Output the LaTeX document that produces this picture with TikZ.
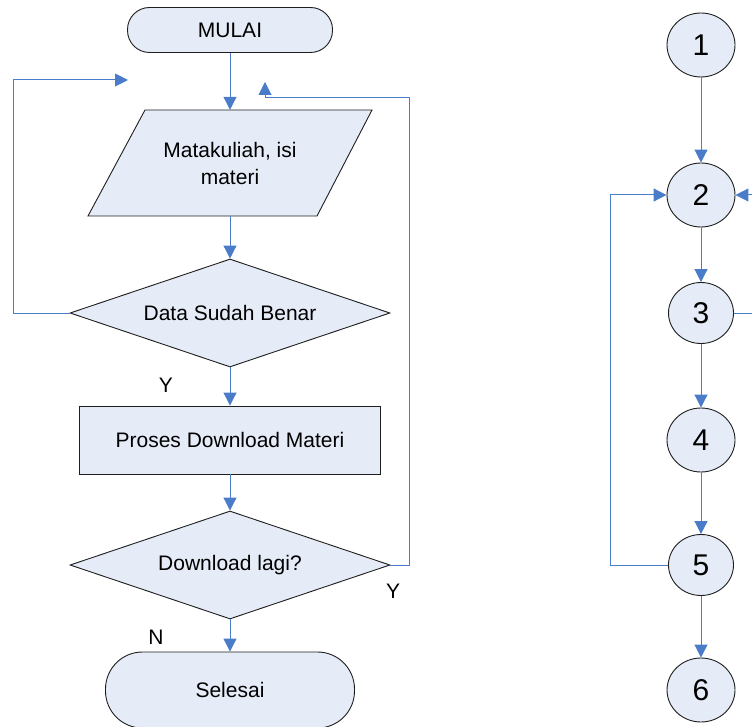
\documentclass[tikz,border=0pt]{standalone}
\usepackage{fontspec}
\setmainfont{Liberation Sans}
\usetikzlibrary{shapes.geometric,arrows.meta}
\definecolor{shapefill}{HTML}{E6ECF7}
\definecolor{conncol}{HTML}{4A7CC9}
\definecolor{edgecol}{HTML}{1E1E1E}
\tikzset{
  box/.style={draw=edgecol,fill=shapefill,line width=0.9pt,inner sep=0pt,font=\fontsize{21}{27}\selectfont,align=center},
  term/.style={box,rectangle,rounded corners=22pt},
  decis/.style={box,diamond,aspect=2.963,minimum width=320pt,minimum height=108pt},
  proc/.style={box,rectangle,minimum width=301pt,minimum height=68pt},
  circ/.style={box,ellipse,font=\fontsize{30}{30}\selectfont},
  conn/.style={draw=conncol,line width=1pt,-{Triangle[width=13pt,length=13pt]}},
  plainconn/.style={draw=conncol,line width=1pt},
  lbl/.style={font=\fontsize{21}{21}\selectfont,inner sep=0pt}
}
\begin{document}
\begin{tikzpicture}[x=1pt,y=-1pt]
\useasboundingbox (0,0) rectangle (752,727);
\clip (0,0) rectangle (752,727);
% left flowchart
\node[term,minimum width=205pt,minimum height=45pt] (start) at (230,30) {MULAI};
\fill[shapefill] (145,110) -- (372,110) -- (317,216) -- (88,216) -- cycle;
\draw[edgecol,line width=0.9pt] (145,110) -- (372,110) -- (317,216) -- (88,216) -- cycle;
\node[font=\fontsize{21}{27}\selectfont,align=center,minimum height=106pt,inner sep=0pt] (inp) at (230,163) {Matakuliah, isi\\materi};
\node[decis] (d1) at (230,313) {Data Sudah Benar};
\node[proc] (proc) at (230,440) {Proses Download Materi};
\node[decis] (d2) at (230,565) {Download lagi?};
\node[term,minimum width=249pt,minimum height=76pt,rounded corners=37pt] (end) at (230,690) {Selesai};
\coordinate (lt) at (128,80);
\coordinate (rt) at (265,82);
\draw[conn] (start.south) -- (inp.north);
\draw[conn] (inp.south) -- (d1.north);
\draw[conn] (d1.south) -- (proc.north);
\draw[conn] (proc.south) -- (d2.north);
\draw[conn] (d2.south) -- (end.north);
\draw[conn] (d1.west) -- (13,313) -- (13,80) -- (lt);
\draw[conn] (d2.east) -- (409,565) -- (409,98) -- (265,98) -- (rt);
\node[lbl] (y1) at (166,385) {Y};
\node[lbl] (y2) at (393,591) {Y};
\node[lbl] (n1) at (156,637) {N};
% right flow graph
\node[circ,minimum width=68pt,minimum height=64pt] (c1) at (701,45) {1};
\node[circ,minimum width=68pt,minimum height=64pt] (c2) at (701,195) {2};
\node[circ,minimum width=65pt,minimum height=61pt] (c3) at (701,313) {3};
\node[circ,minimum width=68pt,minimum height=64pt] (c4) at (701,440) {4};
\node[circ,minimum width=65pt,minimum height=61pt] (c5) at (701,565) {5};
\node[circ,minimum width=68pt,minimum height=64pt] (c6) at (701,690) {6};
\coordinate (re3) at (760,313);
\coordinate (re2) at (760,195);
\draw[conn] (c1.south) -- (c2.north);
\draw[conn] (c2.south) -- (c3.north);
\draw[conn] (c3.south) -- (c4.north);
\draw[conn] (c4.south) -- (c5.north);
\draw[conn] (c5.south) -- (c6.north);
\draw[conn] (c5.west) -- (610,565) -- (610,195) -- (c2.west);
\draw[plainconn] (c3.east) -- (re3);
\draw[conn] (re2) -- (c2.east);
\end{tikzpicture}
\end{document}
